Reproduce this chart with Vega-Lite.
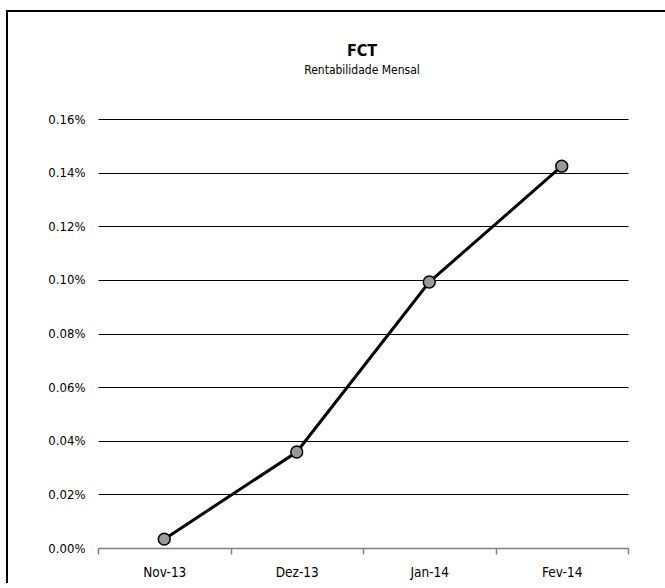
{
  "$schema": "https://vega.github.io/schema/vega-lite/v6.json",
  "width": 680,
  "height": 590,
  "autosize": {"type": "none"},
  "padding": {"left": 7, "top": 11, "right": -22, "bottom": -18},
  "background": "white",
  "title": {
    "text": "FCT",
    "subtitle": "Rentabilidade Mensal",
    "anchor": "middle",
    "dx": 15,
    "offset": -65,
    "font": "DejaVu Sans Condensed",
    "fontSize": 16,
    "fontWeight": "bold",
    "color": "black",
    "subtitleFont": "DejaVu Sans Condensed",
    "subtitleFontSize": 12,
    "subtitleColor": "black",
    "subtitlePadding": 6
  },
  "config": {
    "view": {"stroke": "black", "strokeWidth": 2, "fill": "white"},
    "axis": {"labelFont": "DejaVu Sans Condensed", "labelFontSize": 13, "labelColor": "black"}
  },
  "data": {
    "values": [
      {"month": "Nov-13", "value": 0.000033},
      {"month": "Dez-13", "value": 0.000358},
      {"month": "Jan-14", "value": 0.000992},
      {"month": "Fev-14", "value": 0.001424}
    ]
  },
  "encoding": {
    "x": {
      "field": "month",
      "type": "nominal",
      "sort": null,
      "scale": {"type": "band", "range": [91, 621], "paddingInner": 0, "paddingOuter": 0},
      "axis": {
        "title": null,
        "labelAngle": 0,
        "offset": -53,
        "domainColor": "#808080",
        "domainWidth": 1.5,
        "tickColor": "#808080",
        "tickWidth": 1.5,
        "tickSize": 6,
        "tickBand": "extent",
        "labelPadding": 11,
        "labelFontSize": 13.5,
        "grid": false
      }
    },
    "y": {
      "field": "value",
      "type": "quantitative",
      "scale": {"domain": [0, 0.0016], "range": [537, 108], "nice": false, "zero": true},
      "axis": {
        "title": null,
        "format": ".2%",
        "values": [0, 0.0002, 0.0004, 0.0006, 0.0008, 0.001, 0.0012, 0.0014, 0.0016],
        "offset": -91,
        "domain": false,
        "ticks": false,
        "labelPadding": 13,
        "grid": true,
        "gridColor": {"condition": {"test": "datum.value === 0", "value": "#808080"}, "value": "black"},
        "gridWidth": 1,
        "gridOpacity": 1
      }
    }
  },
  "layer": [
    {"mark": {"type": "line", "color": "black", "strokeWidth": 3}},
    {"mark": {"type": "point", "filled": true, "fill": "#999999", "stroke": "black", "strokeWidth": 1.5, "size": 140, "opacity": 1}}
  ]
}
